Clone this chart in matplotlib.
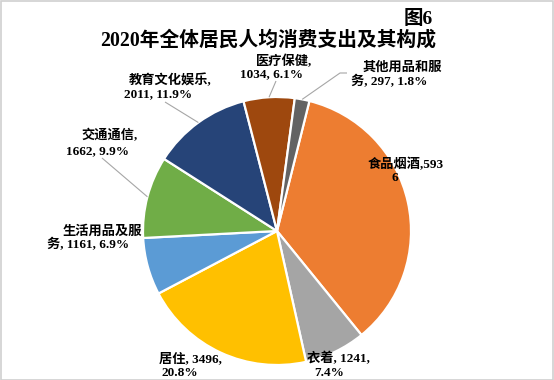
import matplotlib
matplotlib.use("Agg")
import matplotlib.pyplot as plt
import numpy as np
from matplotlib.patches import Rectangle

categories = ["食品烟酒", "衣着", "居住", "生活用品及服务", "交通通信", "教育文化娱乐", "医疗保健", "其他用品和服务"]
values = [5936, 1241, 3496, 1161, 1662, 2011, 1034, 297]
percents = ["35.3%", "7.4%", "20.8%", "6.9%", "9.9%", "11.9%", "6.1%", "1.8%"]
colors = ["#ED7D31", "#A5A5A5", "#FFC000", "#5B9BD5", "#70AD47", "#264478", "#9E480E", "#636363"]

label_lines = [
    ["食品烟酒,593", "6"],
    ["衣着, 1241,", "7.4%"],
    ["居住, 3496,", "20.8%"],
    ["生活用品及服", "务, 1161, 6.9%"],
    ["交通通信,", "1662, 9.9%"],
    ["教育文化娱乐,", "2011, 11.9%"],
    ["医疗保健,", "1034, 6.1%"],
    ["其他用品和服", "务, 297, 1.8%"],
]

W, H = 554, 380
fig = plt.figure(figsize=(W / 100, H / 100), dpi=100)
ax = fig.add_axes([0, 0, 1, 1])

cx, cy, r = 277, 231, 134
start = 76
wedges, _ = ax.pie(values, colors=colors, startangle=-start, counterclock=True,
                   center=(cx, cy), radius=r, frame=True,
                   wedgeprops=dict(edgecolor="white", linewidth=1.6))
ax.set_xlim(0, W)
ax.set_ylim(H, 0)
ax.set_aspect("equal")
ax.axis("off")

fam = ["Liberation Serif", "Noto Sans CJK SC"]
fs = 9.5

# centre of each label line (pixel coords)
line_pos = [
    [(406, 164), (395, 178)],
    [(338, 359), (329, 373)],
    [(190, 359), (180, 373)],
    [(102, 231), (88, 245)],
    [(110, 136), (97, 151)],
    [(170, 80), (158, 94)],
    [(284, 61), (272, 74)],
    [(402, 68), (389, 82)],
]
leader_from = [None, None, None, None, [(102, 158)], [(165, 102)], [(276, 81)], [(347, 73), (340, 73)]]

for w, lines, poss, lf in zip(wedges, label_lines, line_pos, leader_from):
    for txt, (x, y) in zip(lines, poss):
        ax.text(x, y, txt, ha="center", va="center", fontsize=fs, fontweight="bold",
                family=fam, color="#000000")
    if lf is not None:
        th = np.deg2rad((w.theta1 + w.theta2) / 2)
        ex = cx + r * np.cos(th)
        ey = cy + r * np.sin(th)
        xs = [p[0] for p in lf] + [ex]
        ys = [p[1] for p in lf] + [ey]
        ax.plot(xs, ys, color="#A6A6A6", lw=0.8, solid_capstyle="butt")

ax.text(268, 41, "2020年全体居民人均消费支出及其构成", ha="center", va="center",
        fontsize=14.2, fontweight="bold", family=fam)
ax.text(433, 19, "图6", ha="right", va="center", fontsize=14, fontweight="bold", family=fam)

fig.patches.append(Rectangle((0.5 / W, 0.5 / H), 1 - 1.5 / W, 1 - 1.5 / H, transform=fig.transFigure,
                             fill=False, edgecolor="#D0D0D0", lw=1.2))

fig.savefig("out.png", dpi=100)
